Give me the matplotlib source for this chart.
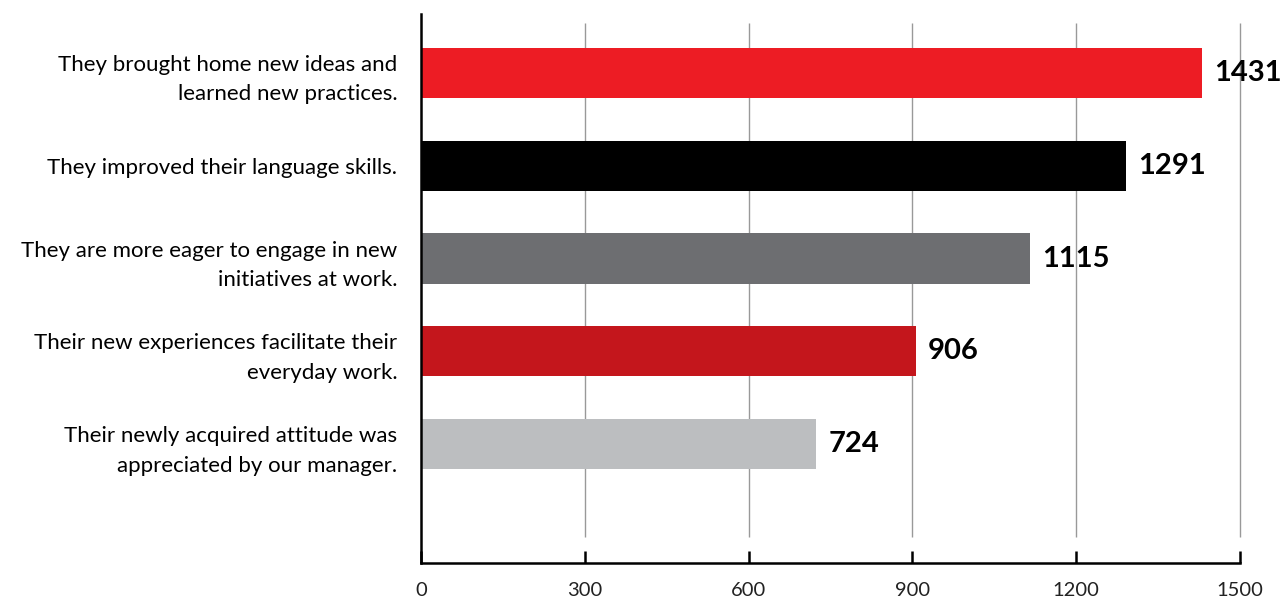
import matplotlib
matplotlib.use("Agg")
import matplotlib.pyplot as plt

# data
labels = [
    "They brought home new ideas and\nlearned new practices.",
    "They improved their language skills.",
    "They are more eager to engage in new\ninitiatives at work.",
    "Their new experiences facilitate their\neveryday work.",
    "Their newly acquired attitude was\nappreciated by our manager.",
]
values = [1431, 1291, 1115, 906, 724]
colors = ["#ED1C24", "#000000", "#6D6E71", "#C4161C", "#BCBEC0"]
xticks = [0, 300, 600, 900, 1200, 1500]

plt.rcParams['font.family'] = ['Lato', 'DejaVu Sans']

fig = plt.figure(figsize=(12.83, 6.01), dpi=100)
ax = fig.add_axes([0.328, 0.0632, 0.6385, 0.9135])

ypos = list(range(len(values)))

# grid lines (stop short of the axis, ticks fill the gap)
ax.vlines(xticks[1:], -0.54, 5.0, color="#999999", linewidth=1.0,
          zorder=0, clip_on=False)

ax.barh(ypos, values, height=0.54, color=colors, zorder=2)

for y, v in zip(ypos, values):
    ax.text(v + 22, y, str(v), va="center", ha="left",
            fontsize=21, fontweight="bold", color="black")

ax.set_xlim(0, 1500)
ax.set_ylim(5.28, -0.634)

ax.set_yticks(ypos)
ax.set_yticklabels(labels, fontsize=16, linespacing=1.6, ha="right")
ax.tick_params(axis="y", length=0, pad=17)

ax.set_xticks(xticks)
ax.tick_params(axis="x", direction="in", length=9, width=1.8,
               labelsize=14.5, pad=14, colors="black")
for lab in ax.get_xticklabels():
    lab.set_color("#222222")

for s in ["top", "right"]:
    ax.spines[s].set_visible(False)
ax.spines["left"].set_linewidth(1.8)
ax.spines["bottom"].set_linewidth(1.8)
ax.spines["bottom"].set_bounds(0, 1500)

fig.savefig("out.png", dpi=100)
